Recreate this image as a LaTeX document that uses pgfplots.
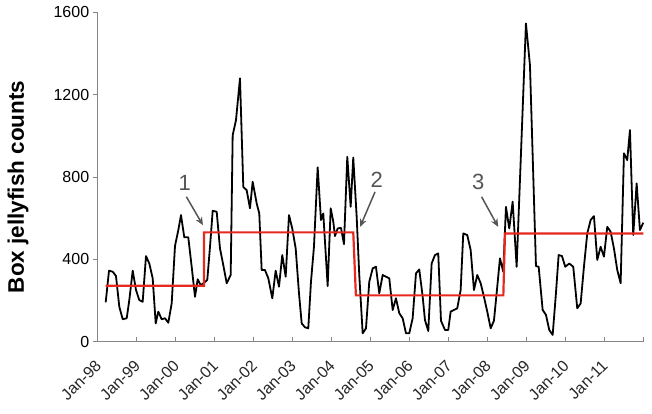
\documentclass[border=0pt]{standalone}
\usepackage{pgfplots}
\pgfplotsset{compat=1.18}
\usepackage{fontspec}
\setmainfont{Liberation Sans}
\usetikzlibrary{arrows.meta}
\definecolor{redline}{RGB}{230,40,30}
\definecolor{axisgray}{RGB}{134,134,134}
\definecolor{anngray}{RGB}{85,85,85}
\begin{document}
\begin{tikzpicture}
\begin{axis}[
  at={(97.7pt,72.3pt)}, anchor=south west,
  scale only axis, width=545.6pt, height=329.4pt,
  xmin=0, xmax=168, ymin=0, ymax=1600,
  axis lines=left,
  axis line style={-, draw=axisgray, line width=1pt},
  xtick={0,12,...,168},
  xticklabels={Jan-98,Jan-99,Jan-00,Jan-01,Jan-02,Jan-03,Jan-04,Jan-05,Jan-06,Jan-07,Jan-08,Jan-09,Jan-10,Jan-11,{}},
  ytick={0,400,...,1600},
  tick align=outside,
  major tick length=5pt,
  tick style={draw=axisgray, line width=0.8pt},
  x tick style={yshift=4.5pt},
  /pgf/number format/assume math mode=true,
  /pgf/number format/1000 sep={},
  y tick label style={font=\fontsize{16}{16}\selectfont, text=black},
  x tick label style={rotate=45, anchor=east, xshift=-10pt, yshift=-12pt, inner sep=1pt, font=\fontsize{16}{16}\selectfont, text=black!85},
  every axis y label/.style={at={(axis description cs:-0.146,0.47)}, anchor=center, rotate=90},
  ylabel={Box jellyfish counts},
  ylabel style={font=\bfseries\fontsize{22.5}{22.5}\selectfont},
  clip=false,
]
\addplot[black, line width=1.8pt, line join=round] coordinates {
(2.46,191)(3.48,345)(4.62,340)(5.63,319)(6.65,170)(7.70,109)(8.93,114)(9.73,202)(10.78,345)(11.79,251)(12.81,202)(13.85,194)(14.87,416)(15.89,380)(16.93,308)(17.86,89)(18.66,146)(19.70,109)(20.72,114)(21.74,92)(22.78,186)(23.80,465)(24.82,542)(25.65,615)(26.66,507)(27.89,507)(28.94,364)(29.96,218)(30.79,303)(31.71,275)(32.73,286)(33.74,300)(34.58,461)(35.41,636)(36.64,631)(37.65,453)(38.67,372)(39.72,284)(40.95,324)(41.56,1003)(42.58,1076)(43.81,1279)(44.83,752)(45.87,736)(46.89,648)(47.72,777)(48.95,672)(49.75,623)(50.49,348)(51.51,348)(52.53,308)(53.76,211)(54.80,345)(55.82,267)(56.83,421)(57.88,316)(58.90,615)(59.91,550)(60.96,453)(61.98,235)(62.81,89)(63.82,70)(64.84,65)(65.67,291)(66.59,461)(67.73,847)(68.75,591)(69.46,623)(70.81,270)(71.74,648)(72.54,583)(73.06,513)(73.89,550)(74.91,553)(75.83,474)(76.85,898)(77.89,655)(78.69,895)(79.74,607)(80.54,324)(81.59,41)(82.61,65)(83.62,291)(84.67,356)(85.68,364)(86.70,235)(87.75,324)(88.76,316)(89.78,308)(90.83,154)(91.84,211)(92.86,138)(93.90,114)(94.92,41)(95.94,41)(96.98,114)(98.00,332)(99.01,351)(100.06,220)(100.77,105)(101.79,52)(102.83,380)(103.85,421)(104.86,429)(105.70,102)(106.93,57)(107.94,57)(108.68,146)(109.70,154)(110.71,162)(111.76,251)(112.56,526)(113.79,518)(114.84,445)(115.86,251)(116.87,324)(117.92,284)(118.93,218)(119.95,146)(121.00,65)(122.01,102)(123.03,267)(123.86,405)(124.88,340)(125.71,655)(126.72,550)(127.77,680)(129.00,364)(131.86,1546)(133.10,1343)(134.95,367)(135.78,364)(137.01,154)(138.03,130)(139.04,57)(140.09,33)(141.10,235)(141.93,421)(142.95,416)(143.97,364)(145.20,380)(146.43,364)(147.66,162)(148.71,186)(149.72,364)(150.74,526)(151.79,591)(152.80,610)(153.82,397)(154.86,461)(155.88,413)(156.90,558)(157.94,534)(158.96,453)(159.98,348)(161.02,284)(162.04,915)(163.05,882)(163.89,1028)(164.90,518)(165.95,769)(166.96,542)(167.98,578)
};
\addplot[redline, line width=2.2pt] coordinates {
(2.46,272)(32.73,272)(32.73,531)(78.69,531)(79.5,225)(124.9,225)(125.4,526)(168,526)
};
\draw[anngray, line width=1.5pt, -{Stealth[length=8pt,width=7pt]}] (axis cs:27.3,704) -- (axis cs:32.4,566);
\draw[anngray, line width=1.5pt, -{Stealth[length=8pt,width=7pt]}] (axis cs:85.4,728) -- (axis cs:80.8,558);
\draw[anngray, line width=1.5pt, -{Stealth[length=8pt,width=7pt]}] (axis cs:118.2,704) -- (axis cs:123.3,558);
\node[text=anngray, font=\fontsize{22}{22}\selectfont] at (axis cs:26.8,769) {1};
\node[text=anngray, font=\fontsize{22}{22}\selectfont] at (axis cs:85.9,785) {2};
\node[text=anngray, font=\fontsize{22}{22}\selectfont] at (axis cs:117.2,777) {3};
\end{axis}
\pgfresetboundingbox
\path[use as bounding box] (0,0) rectangle (652pt,414pt);
\end{tikzpicture}
\end{document}
